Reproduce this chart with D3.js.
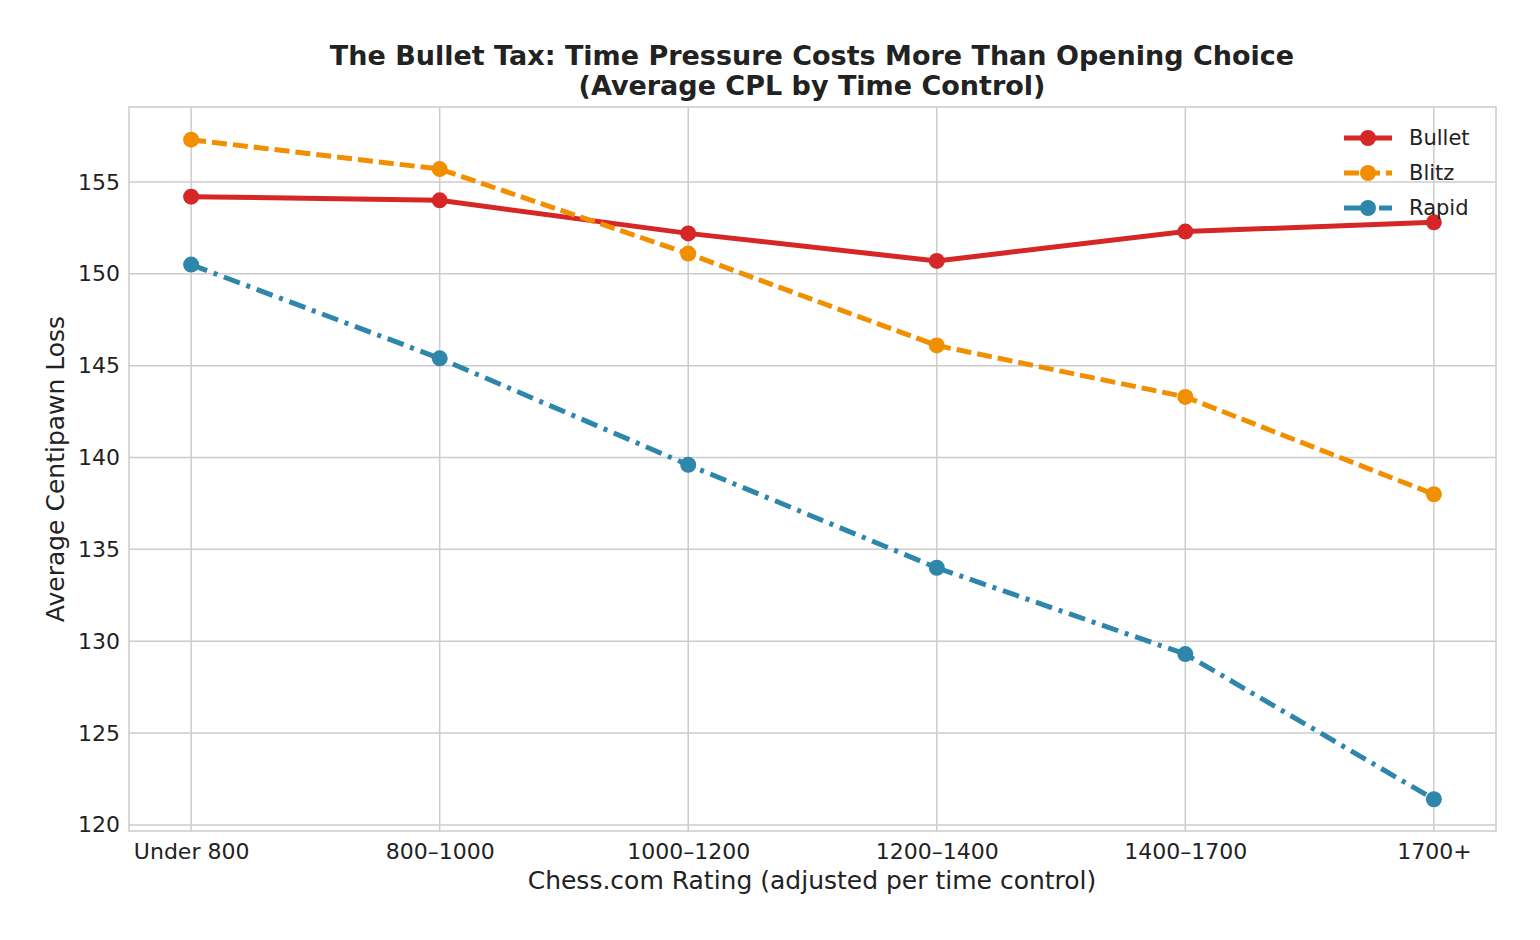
<!DOCTYPE html>
<html><head><meta charset="utf-8">
<script src="https://cdn.jsdelivr.net/npm/d3@7"></script>
<style>body{margin:0;background:#fff;font-family:"DejaVu Sans",sans-serif;}</style>
</head><body><svg id="chart" width="1540" height="940"></svg>
<script>
const categories = ["Under 800", "800–1000", "1000–1200", "1200–1400", "1400–1700", "1700+"];
const bullet = [154.2, 154.0, 152.2, 150.7, 152.3, 152.8];
const blitz = [157.3, 155.7, 151.1, 146.1, 143.3, 138.0];
const rapid = [150.5, 145.4, 139.6, 134.0, 129.3, 121.4];
const yTicks = [120, 125, 130, 135, 140, 145, 150, 155];

const series = [
  { name: "Bullet", values: bullet, color: "#d62728", dash: null },
  { name: "Blitz", values: blitz, color: "#f18f01", dash: "15,6" },
  { name: "Rapid", values: rapid, color: "#2e86ab", dash: "17,7,4,7" }
];

const margin = { left: 129, right: 44, top: 107, bottom: 109 };
const width = 1540, height = 940;
const innerW = width - margin.left - margin.right;
const innerH = height - margin.top - margin.bottom;

const svg = d3.select("#chart");
const chart = svg.append("g").attr("transform", `translate(${margin.left},${margin.top})`);

const x = d3.scaleLinear().domain([-0.25, 5.25]).range([0, innerW]);
const y = d3.scaleLinear().domain([119.67, 159.08]).range([innerH, 0]);

// grid
chart.append("g").selectAll("line").data(categories).enter().append("line")
  .attr("x1", (d, i) => x(i)).attr("x2", (d, i) => x(i))
  .attr("y1", 0).attr("y2", innerH).attr("stroke", "#cccccc").attr("stroke-width", 1.5);
chart.append("g").selectAll("line").data(yTicks).enter().append("line")
  .attr("x1", 0).attr("x2", innerW)
  .attr("y1", d => y(d)).attr("y2", d => y(d)).attr("stroke", "#cccccc").attr("stroke-width", 1.5);

chart.append("rect").attr("width", innerW).attr("height", innerH)
  .attr("fill", "none").attr("stroke", "#cccccc").attr("stroke-width", 1.5);

// axes
const xAxis = chart.append("g").attr("transform", `translate(0,${innerH})`)
  .call(d3.axisBottom(x).tickValues(d3.range(categories.length)).tickFormat(i => categories[i]).tickSize(0).tickPadding(12));
const yAxis = chart.append("g")
  .call(d3.axisLeft(y).tickValues(yTicks).tickSize(0).tickPadding(9));
[xAxis, yAxis].forEach(a => {
  a.select(".domain").remove();
  a.selectAll("text").attr("font-size", 22).attr("fill", "#222").attr("font-family", "DejaVu Sans");
});

// lines
const line = d3.line().x((d, i) => x(i)).y(d => y(d));
series.forEach(s => {
  chart.append("path").datum(s.values).attr("d", line)
    .attr("fill", "none").attr("stroke", s.color).attr("stroke-width", 5)
    .attr("stroke-dasharray", s.dash);
  chart.append("g").selectAll("circle").data(s.values).enter().append("circle")
    .attr("cx", (d, i) => x(i)).attr("cy", d => y(d)).attr("r", 8).attr("fill", s.color);
});

// legend
const legend = chart.append("g").attr("transform", `translate(${innerW - 152},31)`);
series.forEach((s, i) => {
  const g = legend.append("g").attr("transform", `translate(0,${i * 35})`);
  g.append("line").attr("x1", 0).attr("x2", 48).attr("stroke", s.color)
    .attr("stroke-width", 5).attr("stroke-dasharray", s.dash);
  g.append("circle").attr("cx", 24).attr("r", 8).attr("fill", s.color);
  g.append("text").attr("x", 65).attr("dy", "0.35em").attr("font-size", 21)
    .attr("fill", "#222").text(s.name);
});

// titles
svg.append("text").attr("x", 812).attr("y", 65).attr("text-anchor", "middle")
  .attr("font-size", 27).attr("font-weight", "bold").attr("fill", "#222")
  .text("The Bullet Tax: Time Pressure Costs More Than Opening Choice");
svg.append("text").attr("x", 812).attr("y", 95).attr("text-anchor", "middle")
  .attr("font-size", 27).attr("font-weight", "bold").attr("fill", "#222")
  .text("(Average CPL by Time Control)");
svg.append("text").attr("x", 812).attr("y", 889).attr("text-anchor", "middle")
  .attr("font-size", 25).attr("fill", "#222").text("Chess.com Rating (adjusted per time control)");
svg.append("text").attr("transform", "translate(64,469) rotate(-90)").attr("text-anchor", "middle")
  .attr("font-size", 25).attr("fill", "#222").text("Average Centipawn Loss");
</script></body></html>
